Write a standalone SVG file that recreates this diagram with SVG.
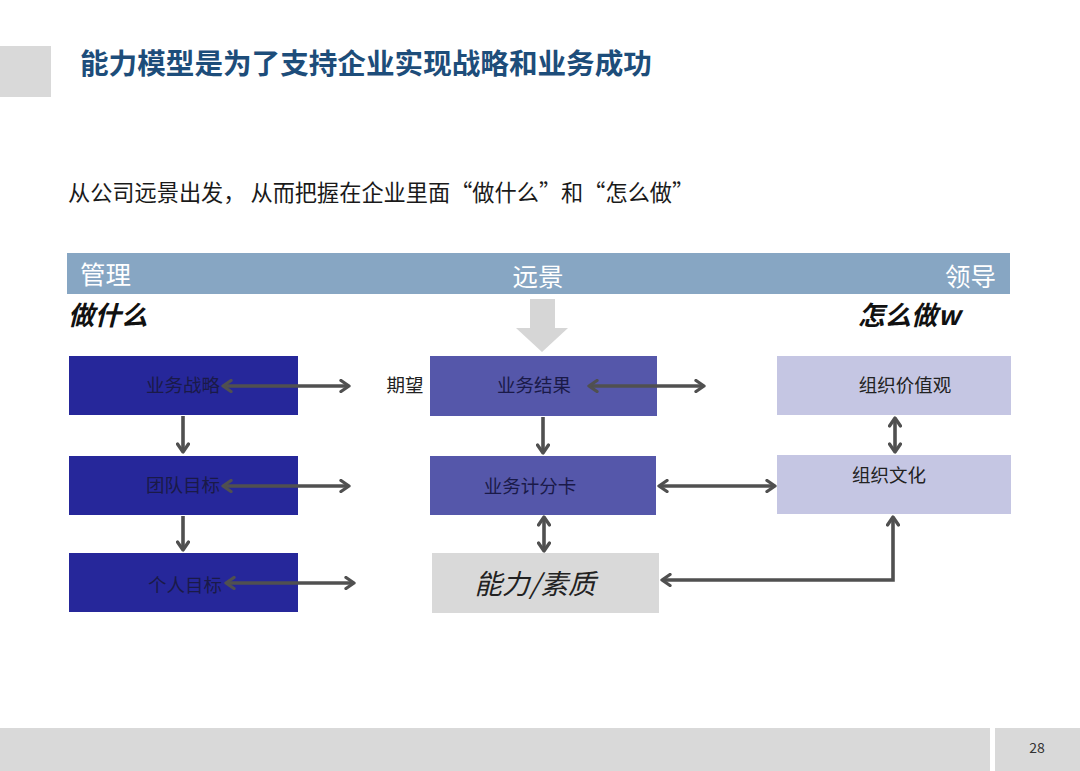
<svg xmlns="http://www.w3.org/2000/svg" width="1080" height="771" viewBox="0 0 1080 771">
<style>
text{font-family:"Noto Sans CJK SC","Liberation Sans",sans-serif;}
.lbl{font-size:18.5px;fill:#1a1a48;text-anchor:middle;}
.lbl2{font-size:18.5px;fill:#222;text-anchor:middle;}
.hdr{font-size:25.5px;fill:#ffffff;}
.it{font-size:26.5px;font-style:italic;font-weight:bold;fill:#111;}
.con{fill:none;stroke:#505050;stroke-width:3.6;}
.dark{fill:#26279a;}
.mid{fill:#5557aa;}
.light{fill:#c5c6e3;}
.gray{fill:#d9d9d9;}
</style>
<defs>
<marker id="ah" viewBox="0 0 14 14" refX="11" refY="7" markerWidth="14" markerHeight="14" markerUnits="userSpaceOnUse" orient="auto-start-reverse">
<path d="M3,1.5 L11,7 L3,12.5" fill="none" stroke="#505050" stroke-width="3.3" stroke-linecap="round" stroke-linejoin="round"/>
</marker>
</defs>
<rect width="1080" height="771" fill="#ffffff"/>
<g id="title">
<rect x="0" y="46" width="51" height="51" fill="#d9d9d9"/>
<text x="80" y="74" font-size="28.6" font-weight="bold" fill="#1d4d7a">能力模型是为了支持企业实现战略和业务成功</text>
<text x="68" y="201" font-size="22.2" fill="#1a1a1a">从公司远景出发， 从而把握在企业里面“做什么”和“怎么做”</text>
</g>
<g id="header">
<rect x="67" y="253" width="943" height="41" fill="#87a6c3"/>
<text class="hdr" x="80" y="284">管理</text>
<text class="hdr" x="538" y="286" text-anchor="middle">远景</text>
<text class="hdr" x="996" y="286" text-anchor="end">领导</text>
<text class="it" x="68" y="325">做什么</text>
<text class="it" x="858" y="325">怎么做w</text>
<polygon points="530,299 555,299 555,328 568,328 542,352 516,328 530,328" fill="#d6d6d6"/>
</g>
<g id="n-strategy"><rect class="dark" x="69" y="356" width="229" height="59"/><text class="lbl" x="183" y="392">业务战略</text></g>
<g id="n-team"><rect class="dark" x="69" y="456" width="229" height="59"/><text class="lbl" x="183" y="492">团队目标</text></g>
<g id="n-personal"><rect class="dark" x="69" y="553" width="229" height="59"/><text class="lbl" x="185" y="592">个人目标</text></g>
<g id="n-expect"><text class="lbl2" x="405" y="392" fill="#111">期望</text></g>
<g id="n-result"><rect class="mid" x="430" y="356" width="227" height="60"/><text class="lbl" x="534" y="392">业务结果</text></g>
<g id="n-scorecard"><rect class="mid" x="430" y="456" width="226" height="59"/><text class="lbl" x="530" y="493">业务计分卡</text></g>
<g id="n-competency"><rect class="gray" x="432" y="553" width="227" height="60"/><text x="535" y="594" font-size="27.5" font-style="italic" fill="#222" text-anchor="middle">能力/素质</text></g>
<g id="n-values"><rect class="light" x="777" y="356" width="234" height="59"/><text class="lbl2" x="905" y="392">组织价值观</text></g>
<g id="n-culture"><rect class="light" x="777" y="455" width="234" height="59"/><text class="lbl2" x="889" y="482">组织文化</text></g>
<g id="connectors">
<line class="con" x1="223" y1="386" x2="349" y2="386" marker-start="url(#ah)" marker-end="url(#ah)"/>
<line class="con" x1="223" y1="486" x2="349" y2="486" marker-start="url(#ah)" marker-end="url(#ah)"/>
<line class="con" x1="226" y1="583" x2="354" y2="583" marker-start="url(#ah)" marker-end="url(#ah)"/>
<line class="con" x1="183" y1="416" x2="183" y2="452" marker-end="url(#ah)"/>
<line class="con" x1="183" y1="516" x2="183" y2="550" marker-end="url(#ah)"/>
<line class="con" x1="589" y1="386" x2="704" y2="386" marker-start="url(#ah)" marker-end="url(#ah)"/>
<line class="con" x1="543" y1="417" x2="543" y2="453" marker-end="url(#ah)"/>
<line class="con" x1="659" y1="486" x2="775" y2="486" marker-start="url(#ah)" marker-end="url(#ah)"/>
<line class="con" x1="544" y1="517" x2="544" y2="551" marker-start="url(#ah)" marker-end="url(#ah)"/>
<line class="con" x1="895" y1="418" x2="895" y2="452" marker-start="url(#ah)" marker-end="url(#ah)"/>
<polyline class="con" points="662,580 893,580 893,517" marker-start="url(#ah)" marker-end="url(#ah)"/>
</g>
<g id="footer">
<rect x="0" y="728" width="990" height="43" fill="#d9d9d9"/>
<rect x="995" y="728" width="85" height="43" fill="#d9d9d9"/>
<text x="1037" y="753" font-size="14" fill="#333" text-anchor="middle" font-family="Liberation Sans Narrow, Liberation Sans, sans-serif">28</text>
</g>
</svg>
